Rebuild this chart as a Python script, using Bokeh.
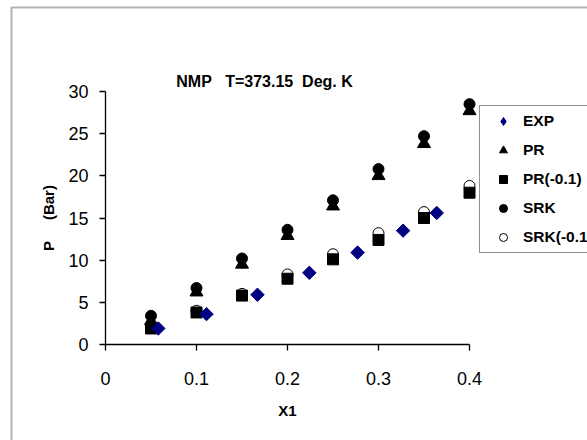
from bokeh.plotting import figure
from bokeh.models import Legend, LegendItem, Label, BoxAnnotation, FixedTicker, Range1d
from bokeh.embed import file_html
from bokeh.resources import INLINE

# ---- data ----
x_model = [0.05, 0.10, 0.15, 0.20, 0.25, 0.30, 0.35, 0.40]
pr = [2.8, 6.2, 9.5, 12.9, 16.4, 20.0, 23.8, 27.7]
pr_m01 = [1.9, 3.8, 5.8, 7.8, 10.1, 12.4, 15.0, 18.0]
srk = [3.4, 6.7, 10.2, 13.6, 17.1, 20.8, 24.7, 28.5]
srk_m01 = [2.1, 4.0, 6.0, 8.3, 10.7, 13.2, 15.7, 18.8]
exp_x = [0.058, 0.111, 0.167, 0.224, 0.277, 0.327, 0.364]
exp_p = [1.9, 3.6, 5.9, 8.5, 10.9, 13.5, 15.6]
x_ticks = [0, 0.1, 0.2, 0.3, 0.4]
x_tick_labels = ["0", "0.1", "0.2", "0.3", "0.4"]
y_ticks = [0, 5, 10, 15, 20, 25, 30]
series_names = ["EXP", "PR", "PR(-0.1)", "SRK", "SRK(-0.1)"]
NB = "\u00a0"
title_text = "NMP" + NB * 3 + "T=373.15" + NB * 2 + "Deg." + NB + "K"
x_label = "X1"
y_label = "P" + NB * 5 + "(Bar)"

FONT = "Liberation Sans"
W, H = 587, 440
AX_X0, AX_Y0 = 105, 344          # pixel position of the data origin
PX_X = 910.0                      # pixels per unit of X1
PX_Y = 253.0 / 30.0               # pixels per bar

p = figure(width=W, height=H,
           x_range=Range1d(-AX_X0 / PX_X, (W - AX_X0) / PX_X),
           y_range=Range1d(-(H - AX_Y0) / PX_Y, AX_Y0 / PX_Y),
           output_backend="svg", toolbar_location=None,
           min_border=0, min_border_left=0, min_border_right=0,
           min_border_top=0, min_border_bottom=0)
p.outline_line_color = None
p.grid.visible = False
p.background_fill_color = "white"
p.border_fill_color = "white"

for ax in (p.xaxis[0], p.yaxis[0]):
    ax.fixed_location = 0
    ax.axis_line_color = "black"
    ax.axis_line_width = 1.3
    ax.major_tick_line_color = "black"
    ax.major_tick_line_width = 1.3
    ax.major_tick_in = 0
    ax.major_tick_out = 6
    ax.minor_tick_line_color = None
    ax.major_label_text_font = FONT
    ax.major_label_text_font_size = "18px"
    ax.major_label_text_color = "black"
    ax.axis_label_text_font = FONT
    ax.axis_label_text_font_style = "bold"
    ax.axis_label_text_font_size = "15px"
    ax.axis_label_text_color = "black"

p.xaxis.ticker = FixedTicker(ticks=x_ticks)
p.xaxis.major_label_overrides = dict(zip(x_ticks, x_tick_labels))
p.xaxis.bounds = (0, 0.4)
p.xaxis.major_label_standoff = 21
p.xaxis.axis_label = x_label
p.xaxis.axis_label_standoff = 14

p.yaxis.ticker = FixedTicker(ticks=y_ticks)
p.yaxis.bounds = (0, 30)
p.yaxis.major_label_standoff = 11
p.yaxis.axis_label = y_label
p.yaxis.axis_label_standoff = 8

# draw order: open circles, squares, triangles, filled circles, diamonds
r_srk01 = p.scatter(x_model, srk_m01, marker="circle", size=11, fill_color="white",
                    line_color="black", line_width=1)
r_pr01 = p.scatter(x_model, pr_m01, marker="square", size=11, fill_color="black",
                   line_color="black")
r_pr = p.scatter(x_model, pr, marker="triangle", size=13, fill_color="black",
                 line_color="black")
r_srk = p.scatter(x_model, srk, marker="circle", size=11, fill_color="black",
                  line_color="black")
r_exp = p.scatter(exp_x, exp_p, marker="square", angle=0.785398, size=9.5,
                  fill_color="#000080", line_color="#000080")
# diamond glyph used for the legend entry of EXP (same data, not drawn in the plot)
r_exp_key = p.scatter(exp_x, exp_p, marker="diamond", size=14,
                      fill_color="#000080", line_color="#000080", visible=False)

legend = Legend(items=[
    LegendItem(label=series_names[0], renderers=[r_exp_key]),
    LegendItem(label=series_names[1], renderers=[r_pr]),
    LegendItem(label=series_names[2], renderers=[r_pr01]),
    LegendItem(label=series_names[3], renderers=[r_srk]),
    LegendItem(label=series_names[4], renderers=[r_srk01]),
], location=(479, H - 253))
legend.label_text_font = FONT
legend.label_text_font_style = "bold"
legend.label_text_font_size = "15.5px"
legend.label_text_color = "black"
legend.label_height = 20
legend.glyph_height = 20
legend.glyph_width = 36
legend.spacing = 9
legend.padding = 5
legend.margin = 0
legend.label_standoff = 2
legend.border_line_color = "#222222"
legend.border_line_width = 1.5
legend.background_fill_color = "white"
legend.background_fill_alpha = 1
p.add_layout(legend, "center")

title = Label(x=264, y=H - 81, x_units="screen", y_units="screen", text=title_text,
              text_font=FONT, text_font_style="bold", text_font_size="16px",
              text_align="center", text_baseline="middle", text_color="black")
p.add_layout(title)

frame_box = BoxAnnotation(left=11, right=900, top=7, bottom=900,
                          left_units="canvas", right_units="canvas",
                          top_units="canvas", bottom_units="canvas",
                          fill_alpha=0, line_color="black", line_width=2)
p.add_layout(frame_box)

open("out.html", "w").write(file_html(p, INLINE))
